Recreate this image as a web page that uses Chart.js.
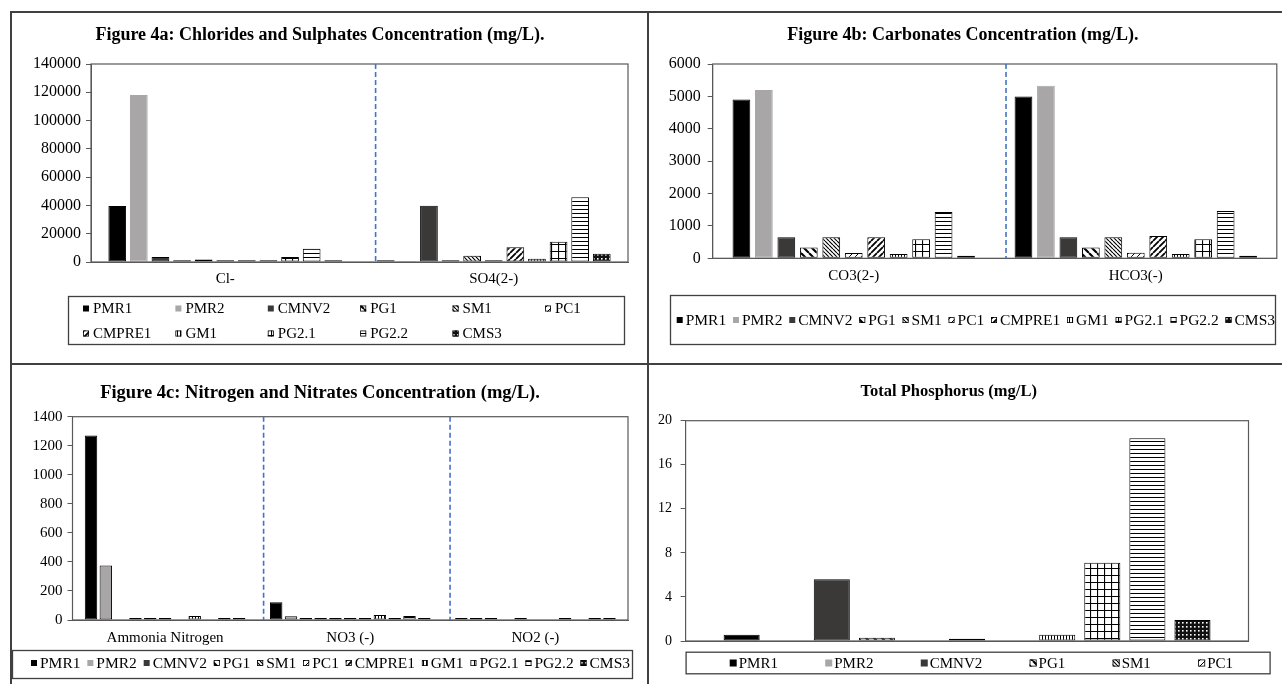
<!DOCTYPE html>
<html>
<head>
<meta charset="utf-8">
<script src="https://cdn.jsdelivr.net/npm/chart.js@4.4.1/dist/chart.umd.min.js"></script>
<style>
  html, body { margin: 0; padding: 0; background: #fff; }
  body { width: 1282px; height: 684px; position: relative; overflow: hidden; }
  .line { position: absolute; background: #404040; }
  canvas { position: absolute; }
</style>
</head>
<body>
<div class="line" style="left:10px;top:11px;width:1272px;height:2px"></div>
<div class="line" style="left:10px;top:11px;width:2px;height:673px"></div>
<div class="line" style="left:647px;top:11px;width:2px;height:673px"></div>
<div class="line" style="left:10px;top:363px;width:1272px;height:2px"></div>

<canvas id="figA" width="635" height="350" style="left:12px;top:13px"></canvas>
<canvas id="figB" width="633" height="350" style="left:649px;top:13px"></canvas>
<canvas id="figC" width="635" height="319" style="left:12px;top:365px"></canvas>
<canvas id="figD" width="633" height="319" style="left:649px;top:365px"></canvas>

<script>
// sample sites (one dataset each)
var sites = ['PMR1', 'PMR2', 'CMNV2', 'PG1', 'SM1', 'PC1', 'CMPRE1', 'GM1', 'PG2.1', 'PG2.2', 'CMS3'];

// Figure 4a
var catsA = ['Cl-', 'SO4(2-)'];
var chlorides = [39600, 118000, 3500, 1300, 1800, 1300, 1300, 1300, 3500, 9400, 1300];
var sulphates = [1300, 700, 39800, 1300, 4500, 1300, 10400, 2300, 14400, 45700, 5900];
var ticksA = { max: 140000, step: 20000 };

// Figure 4b
var catsB = ['CO3(2-)', 'HCO3(-)'];
var carbonates = [4900, 5200, 650, 330, 650, 165, 650, 130, 590, 1430, 75];
var bicarbonates = [5000, 5330, 650, 330, 650, 170, 690, 130, 590, 1460, 75];
var ticksB = { max: 6000, step: 1000 };

// Figure 4c
var catsC = ['Ammonia Nitrogen', 'NO3 (-)', 'NO2 (-)'];
var ammonia = [1270, 375, 0, 14, 14, 14, 0, 28, 0, 14, 14];
var nitrates = [122, 25, 14, 14, 14, 14, 14, 35, 14, 28, 14];
var nitrites = [14, 14, 14, 0, 14, 0, 0, 14, 0, 14, 14];
var ticksC = { max: 1400, step: 200 };

// Total phosphorus
var catsD = [''];
var phosphorus = [0.57, 0, 5.6, 0.3, 0, 0.2, 0, 0.57, 7.1, 18.4, 1.9];
var ticksD = { max: 20, step: 4 };

var serif = '"Liberation Serif", "Times New Roman", serif';
Chart.defaults.font.family = serif;
Chart.defaults.color = '#000';

// fill patterns like the excel ones
function pattern(kind) {
    var s = { dnWide: 8, dn: 4, up: 6, upWide: 6, vert: 3, grid: 7, horiz: 4, dots: 4 }[kind];
    var c = document.createElement('canvas');
    c.width = s; c.height = s;
    var g = c.getContext('2d');
    g.fillStyle = kind == 'dots' ? '#111' : '#fff';
    g.fillRect(0, 0, s, s);
    g.strokeStyle = '#000';
    g.beginPath();
    if (kind == 'dnWide' || kind == 'dn') {
        g.lineWidth = kind == 'dn' ? 1.2 : 2.2;
        for (var k = -1; k <= 1; k++) { g.moveTo(k * s, 0); g.lineTo(k * s + s, s); }
    } else if (kind == 'up' || kind == 'upWide') {
        g.lineWidth = kind == 'up' ? 1 : 1.8;
        for (var k = -1; k <= 1; k++) { g.moveTo(k * s, s); g.lineTo(k * s + s, 0); }
    } else if (kind == 'vert') {
        g.lineWidth = 1; g.moveTo(0.5, 0); g.lineTo(0.5, s);
    } else if (kind == 'horiz') {
        g.lineWidth = 1; g.moveTo(0, 0.5); g.lineTo(s, 0.5);
    } else if (kind == 'grid') {
        g.lineWidth = 1.2; g.moveTo(0.5, 0); g.lineTo(0.5, s); g.moveTo(0, 0.5); g.lineTo(s, 0.5);
    }
    g.stroke();
    if (kind == 'dots') { g.fillStyle = '#fff'; g.fillRect(1, 1, 1.6, 1.6); }
    return g.createPattern(c, 'repeat');
}

var fills = ['#000000', '#a8a6a6', '#3b3838', pattern('dnWide'), pattern('dn'), pattern('up'),
             pattern('upWide'), pattern('vert'), pattern('grid'), pattern('horiz'), pattern('dots')];

function buildDatasets(groups, pmr2Edge) {
    return sites.map(function(name, i) {
        return {
            label: name,
            data: groups.map(function(g) { return g[i]; }),
            backgroundColor: fills[i],
            borderColor: i == 1 ? pmr2Edge : '#000',
            borderWidth: 1,
            borderSkipped: false
        };
    });
}

// legend drawn inside a box, either in columns or spread along one row
var boxLegend = {
    id: 'boxLegend',
    afterDraw: function(chart, args, o) {
        var ctx = chart.ctx;
        var items = chart.data.datasets.slice(0, o.count || 11);
        ctx.save();
        ctx.strokeStyle = '#404040';
        ctx.lineWidth = 1.3;
        ctx.strokeRect(o.box[0] + 0.5, o.box[1] + 0.5, o.box[2], o.box[3]);
        ctx.font = o.size + 'px ' + serif;
        ctx.textBaseline = 'middle';
        ctx.fillStyle = '#000';
        var m = o.marker;
        function drawItem(ds, x, y) {
            ctx.fillStyle = ds.backgroundColor;
            ctx.fillRect(x, y - m / 2, m, m);
            if (typeof ds.backgroundColor != 'string') {
                ctx.strokeStyle = '#000'; ctx.lineWidth = 0.8;
                ctx.strokeRect(x + 0.4, y - m / 2 + 0.4, m - 0.8, m - 0.8);
            }
            ctx.fillStyle = '#000';
            ctx.fillText(ds.label, x + m + o.gap, y + 1);
        }
        if (o.cols) {
            items.forEach(function(ds, i) {
                var r = Math.floor(i / o.cols), c = i % o.cols;
                drawItem(ds, o.x0 + c * o.colW, o.rowY[r]);
            });
        } else {
            var widths = items.map(function(ds) { return m + o.gap + ctx.measureText(ds.label).width; });
            var total = widths.reduce(function(a, b) { return a + b; }, 0);
            var space = (o.x1 - o.x0 - total) / (items.length - 1);
            var x = o.x0;
            items.forEach(function(ds, i) {
                drawItem(ds, x, o.rowY[0]);
                x += widths[i] + space;
            });
        }
        ctx.restore();
    }
};

// plot area border and the blue dashed separators
var plotFrame = {
    id: 'plotFrame',
    afterDatasetsDraw: function(chart, args, o) {
        var ctx = chart.ctx, a = chart.chartArea, xs = chart.scales.x;
        ctx.save();
        ctx.strokeStyle = '#595959';
        ctx.lineWidth = 1.2;
        ctx.strokeRect(a.left, a.top, a.right - a.left, a.bottom - a.top);
        ctx.strokeStyle = '#4472c4';
        ctx.lineWidth = 1.6;
        ctx.setLineDash([5, 3]);
        (o.dividers || []).forEach(function(v) {
            var i = Math.floor(v);
            var px = xs.getPixelForValue(i) + (v - i) * (xs.getPixelForValue(i + 1) - xs.getPixelForValue(i));
            ctx.beginPath();
            ctx.moveTo(px, a.top);
            ctx.lineTo(px, a.bottom);
            ctx.stroke();
        });
        ctx.restore();
    }
};

function makeChart(id, c) {
    return new Chart(document.getElementById(id), {
        type: 'bar',
        data: { labels: c.labels, datasets: buildDatasets(c.groups, c.pmr2Edge) },
        options: {
            responsive: false,
            animation: false,
            events: [],
            categoryPercentage: c.catPct,
            barPercentage: c.barPct,
            layout: { padding: { left: 0, top: 0, right: c.padRight, bottom: c.padBottom } },
            plugins: {
                legend: { display: false },
                tooltip: { enabled: false },
                title: {
                    display: true,
                    text: c.title,
                    color: '#000',
                    font: { size: c.titleSize, weight: 'bold' },
                    padding: { top: c.titlePad[0], bottom: c.titlePad[1] }
                },
                boxLegend: c.legend,
                plotFrame: { dividers: c.dividers }
            },
            scales: {
                x: {
                    grid: { display: false, drawTicks: false },
                    border: { color: '#595959' },
                    ticks: { display: c.xLabels, font: { size: 15 }, color: '#000', padding: c.xPad },
                    afterFit: function(s) { s.height = c.xH; }
                },
                y: {
                    min: 0,
                    max: c.ticks.max,
                    grid: { drawOnChartArea: false, tickLength: 5, color: '#595959' },
                    border: { color: '#595959' },
                    ticks: {
                        stepSize: c.ticks.step,
                        padding: c.yPad,
                        color: '#000',
                        font: { size: c.yFont },
                        callback: function(v) { return String(v); }
                    },
                    afterFit: function(s) { s.width = c.yW; }
                }
            }
        },
        plugins: [boxLegend, plotFrame]
    });
}

makeChart('figA', {
    labels: catsA, groups: [chlorides, sulphates], pmr2Edge: '#a8a6a6',
    title: 'Figure 4a: Chlorides and Sulphates Concentration (mg/L).', titleSize: 18, titlePad: [11.2, 18.2],
    catPct: 0.885, barPct: 0.82, padRight: 19, padBottom: 71, xH: 30, xPad: 8, xLabels: true,
    yW: 79, yPad: 5, yFont: 16, ticks: ticksA, dividers: [0.56],
    legend: { box: [56, 283, 556, 48], size: 15, marker: 6, gap: 4, cols: 6, colW: 92.4, x0: 71, rowY: [295.5, 320.5] }
});

makeChart('figB', {
    labels: catsB, groups: [carbonates, bicarbonates], pmr2Edge: '#a8a6a6',
    title: 'Figure 4b: Carbonates Concentration (mg/L).', titleSize: 18, titlePad: [11.2, 18.2],
    catPct: 0.876, barPct: 0.79, padRight: 5.2, padBottom: 74.7, xH: 30, xPad: 8.7, xLabels: true,
    yW: 63.7, yPad: 7, yFont: 16, ticks: ticksB, dividers: [0.54],
    legend: { box: [21, 282, 605, 49], size: 15.5, marker: 6, gap: 3, x0: 27.7, x1: 626, rowY: [307] }
});

makeChart('figC', {
    labels: catsC, groups: [ammonia, nitrates, nitrites], pmr2Edge: '#000',
    title: 'Figure 4c: Nitrogen and Nitrates Concentration (mg/L).', titleSize: 18.5, titlePad: [16.9, 12.6],
    catPct: 0.88, barPct: 0.84, padRight: 19, padBottom: 34, xH: 30, xPad: 8.7, xLabels: true,
    yW: 60.5, yPad: 5, yFont: 15, ticks: ticksC, dividers: [0.532, 1.539],
    legend: { box: [0, 285, 620, 28], size: 15.5, marker: 6, gap: 3, x0: 19, x1: 618, rowY: [298] }
});

makeChart('figD', {
    labels: catsD, groups: [phosphorus], pmr2Edge: '#000',
    title: 'Total Phosphorus (mg/L)', titleSize: 16.5, titlePad: [16.8, 19.1],
    catPct: 0.881, barPct: 0.8, padRight: 33.5, padBottom: 33, xH: 10, xPad: 0, xLabels: false,
    yW: 36.6, yPad: 8.6, yFont: 14, ticks: ticksD, dividers: [],
    legend: { box: [36.6, 286.7, 584, 21.6], size: 15, marker: 7, gap: 2, count: 6, x0: 80.7, x1: 584, rowY: [298] }
});
</script>
</body>
</html>
